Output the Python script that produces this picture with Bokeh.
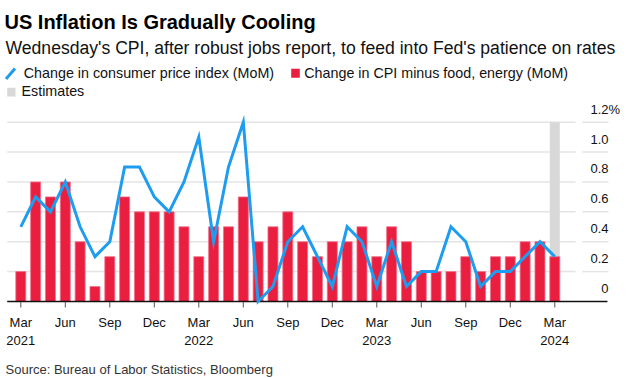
from bokeh.plotting import figure
from bokeh.models import Range1d, ColumnDataSource
from bokeh.core.properties import value
from bokeh.embed import file_html
from bokeh.resources import INLINE

# ---------------- data ----------------
months = [
    "Mar 2021", "Apr 2021", "May 2021", "Jun 2021", "Jul 2021", "Aug 2021", "Sep 2021",
    "Oct 2021", "Nov 2021", "Dec 2021", "Jan 2022", "Feb 2022", "Mar 2022", "Apr 2022",
    "May 2022", "Jun 2022", "Jul 2022", "Aug 2022", "Sep 2022", "Oct 2022", "Nov 2022",
    "Dec 2022", "Jan 2023", "Feb 2023", "Mar 2023", "Apr 2023", "May 2023", "Jun 2023",
    "Jul 2023", "Aug 2023", "Sep 2023", "Oct 2023", "Nov 2023", "Dec 2023", "Jan 2024",
    "Feb 2024", "Mar 2024",
]
cpi_mom = [0.5, 0.7, 0.6, 0.8, 0.5, 0.3, 0.4, 0.9, 0.9, 0.7, 0.6, 0.8, 1.1, 0.4,
           0.9, 1.2, 0.0, 0.1, 0.4, 0.5, 0.3, 0.1, 0.5, 0.4, 0.1, 0.4, 0.1, 0.2,
           0.2, 0.5, 0.4, 0.1, 0.2, 0.2, 0.3, 0.4, 0.3]
core_mom = [0.2, 0.8, 0.7, 0.8, 0.4, 0.1, 0.3, 0.7, 0.6, 0.6, 0.6, 0.5, 0.3, 0.5,
            0.5, 0.7, 0.4, 0.5, 0.6, 0.4, 0.3, 0.4, 0.4, 0.5, 0.3, 0.5, 0.4, 0.2,
            0.2, 0.2, 0.3, 0.2, 0.3, 0.3, 0.4, 0.4, 0.3]
estimate_months = ["Mar 2024"]
y_ticks = [0, 0.2, 0.4, 0.6, 0.8, 1.0, 1.2]
y_tick_labels = ["0", "0.2", "0.4", "0.6", "0.8", "1.0", "1.2"]
y_unit = "%"

title = "US Inflation Is Gradually Cooling"
subtitle = "Wednesday's CPI, after robust jobs report, to feed into Fed's patience on rates"
legend_cpi = "Change in consumer price index (MoM)"
legend_core = "Change in CPI minus food, energy (MoM)"
legend_est = "Estimates"
source_text = "Source: Bureau of Labor Statistics, Bloomberg"

# ---------------- style ----------------
FONT = value("Liberation Sans")
RED = "#EA1F3F"
BLUE = "#1E9DF0"
GREY_EST = "#D8D8D8"
GRID = "#E4E4E4"
W, H = 632, 378


def base(y, size):
    """Correct the renderer's baseline placement for a given font size."""
    return y - 0.36 * size


x = list(range(len(months)))
y_max = y_ticks[-1]

p = figure(width=W, height=H, output_backend="svg", toolbar_location=None, tools="",
           x_range=Range1d(-1.3686, 41.239), y_range=Range1d(-0.5153, 2.0145),
           x_axis_type=None, y_axis_type=None,
           min_border=0, min_border_left=0, min_border_right=0,
           min_border_top=0, min_border_bottom=0)
p.outline_line_color = None
p.background_fill_color = "white"
p.border_fill_color = "white"
p.xgrid.visible = False
p.ygrid.visible = False
p.extra_x_ranges = {"px": Range1d(0, W)}
p.extra_y_ranges = {"px": Range1d(H, 0)}

# gridlines (two pieces: plot area, and under the labels)
grid_y = y_ticks[1:]
p.segment(x0=[-0.917] * len(grid_y), x1=[37.40] * len(grid_y), y0=grid_y, y1=grid_y,
          line_color=GRID, line_width=1.5)
p.segment(x0=[37.85] * len(grid_y), x1=[39.62] * len(grid_y), y0=grid_y, y1=grid_y,
          line_color=GRID, line_width=1.5)

# estimates band
est_idx = [months.index(m) for m in estimate_months]
p.vbar(x=est_idx, top=[y_max] * len(est_idx), bottom=0, width=0.674,
       fill_color=GREY_EST, line_color=None)

# bars
src = ColumnDataSource(dict(x=x, core=core_mom, cpi=cpi_mom, month=months))
p.vbar(x="x", top="core", bottom=0, width=0.674, source=src,
       fill_color=RED, line_color="#F0708A", line_width=0.8)

# baseline
p.segment(x0=[-0.917], x1=[39.55], y0=[0], y1=[0], line_color="#111111", line_width=1.3)

# x ticks
tick_idx = [i for i in x if i % 3 == 0]
p.segment(x0=tick_idx, x1=tick_idx, y0=[301.5] * len(tick_idx), y1=[307] * len(tick_idx),
          y_range_name="px", line_color="#555555", line_width=1)

# line
p.line(x="x", y="cpi", source=src, line_color=BLUE, line_width=3, line_join="miter")

# x tick labels
p.text(x=tick_idx, y=[base(326.7, 13)] * len(tick_idx),
       text=[months[i].split()[0] for i in tick_idx],
       y_range_name="px", text_font=FONT, text_font_size="13px", text_color="#111111",
       text_align="center", text_baseline="alphabetic")
year_idx = [i for i in tick_idx if months[i].startswith("Mar")]
p.text(x=year_idx, y=[base(344.3, 13)] * len(year_idx),
       text=[months[i].split()[1] for i in year_idx],
       y_range_name="px", text_font=FONT, text_font_size="13px", text_color="#111111",
       text_align="center", text_baseline="alphabetic")

# y tick labels (right side, above gridlines)
p.text(x=[608] * len(y_ticks), y=y_ticks, text=y_tick_labels, x_range_name="px",
       y_offset=-8.3 - 0.36 * 13, text_font=FONT, text_font_size="13px",
       text_color="#111111", text_align="right", text_baseline="alphabetic")
p.text(x=[608], y=[y_ticks[-1]], text=[y_unit], x_range_name="px",
       y_offset=-8.3 - 0.36 * 13, text_font=FONT, text_font_size="13px",
       text_color="#111111", text_align="left", text_baseline="alphabetic")

# header
p.text(x=[4], y=[base(28.3, 20)], text=[title], x_range_name="px", y_range_name="px",
       text_font=FONT, text_font_size="20px", text_font_style="bold", text_color="#000000",
       text_align="left", text_baseline="alphabetic")
p.text(x=[5], y=[base(53.5, 17.6)], text=[subtitle], x_range_name="px", y_range_name="px",
       text_font=FONT, text_font_size="17.6px", text_color="#111111",
       text_align="left", text_baseline="alphabetic")

# legend
p.segment(x0=[5.5], y0=[78.5], x1=[14.5], y1=[68], x_range_name="px", y_range_name="px",
          line_color=BLUE, line_width=3)
p.text(x=[23.3], y=[base(77.3, 14.3)], text=[legend_cpi], x_range_name="px",
       y_range_name="px", text_font=FONT, text_font_size="14.3px", text_color="#111111",
       text_align="left", text_baseline="alphabetic")
p.quad(left=[290.7], right=[299.3], top=[68.3], bottom=[77.3], x_range_name="px",
       y_range_name="px", fill_color=RED, line_color=None)
p.text(x=[303.8], y=[base(77.3, 14.3)], text=[legend_core], x_range_name="px",
       y_range_name="px", text_font=FONT, text_font_size="14.3px", text_color="#111111",
       text_align="left", text_baseline="alphabetic")
p.quad(left=[6.7], right=[15], top=[87.3], bottom=[96], x_range_name="px",
       y_range_name="px", fill_color=GREY_EST, line_color=None)
p.text(x=[21], y=[base(96, 14.3)], text=[legend_est], x_range_name="px",
       y_range_name="px", text_font=FONT, text_font_size="14.3px", text_color="#111111",
       text_align="left", text_baseline="alphabetic")

# source
p.text(x=[5], y=[base(374, 13)], text=[source_text], x_range_name="px", y_range_name="px",
       text_font=FONT, text_font_size="13px", text_color="#333333",
       text_align="left", text_baseline="alphabetic")

open("out.html", "w").write(file_html(p, INLINE))
